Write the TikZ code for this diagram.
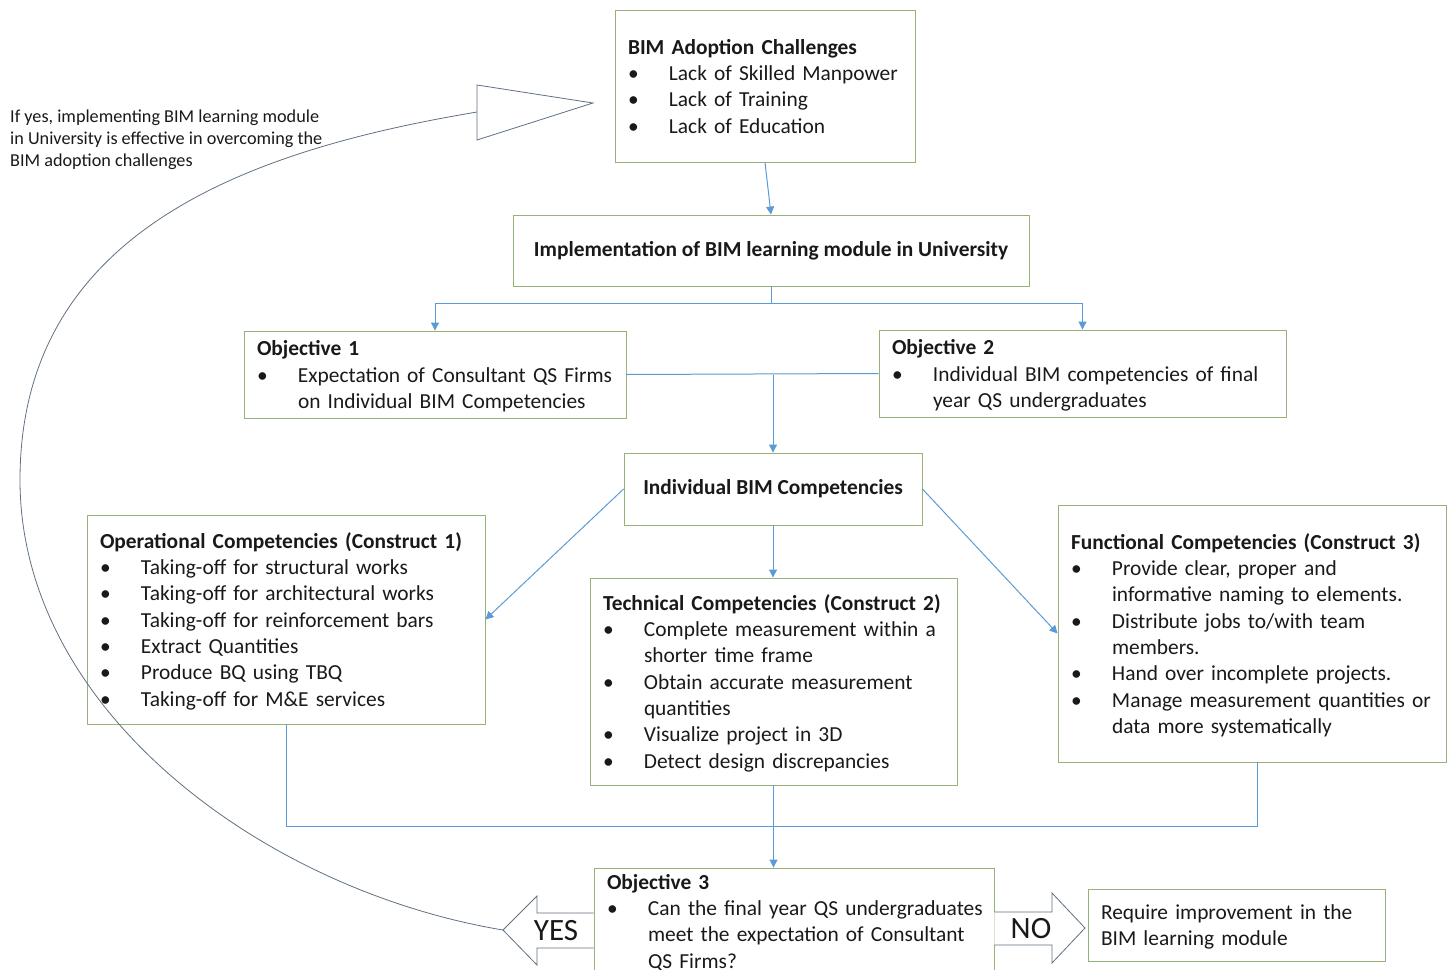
\documentclass[tikz,border=0pt]{standalone}
\usepackage{fontspec}
\setmainfont{Carlito}
\usetikzlibrary{arrows.meta}

\definecolor{boxgreen}{RGB}{150,178,118}
\definecolor{linkblue}{RGB}{91,155,213}
\definecolor{loopgray}{RGB}{95,112,130}
\definecolor{txtgray}{RGB}{25,25,25}

% bullet with hanging indent, lines kept unbroken
\newcommand{\bul}{\makebox[41pt][l]{\textbullet}}
\newcommand{\ind}{\hspace*{41pt}}
\newcommand{\boxlines}[1]{\raisebox{-2.5pt}[\height][\depth]{\begin{tabular}{@{}l@{}}#1\end{tabular}}}

\begin{document}
\begin{tikzpicture}[x=1pt,y=-1pt,
    box/.style={draw=boxgreen,line width=0.9pt,align=left,inner xsep=13pt,inner ysep=0pt,
                text=txtgray,font=\fontsize{21.4}{26.3}\selectfont},
    link/.style={linkblue,line width=1pt,-{Triangle[length=8pt,width=8pt]}},
    plain/.style={linkblue,line width=1pt},
    bigarrow/.style={draw=loopgray,line width=0.8pt,fill=white}]
    \useasboundingbox (0,0) rectangle (1447,969);
    \clip (0,0) rectangle (1447,969);

    % boxes
    \node[box,minimum width=300pt,text width=274pt,minimum height=152pt] (chall) at (765,86)
        {\boxlines{\textbf{BIM Adoption Challenges}\\
         \bul Lack of Skilled Manpower\\
         \bul Lack of Training\\
         \bul Lack of Education}};
    \node[box,align=center,minimum width=516pt,minimum height=71pt] (impl) at (771,250.5)
        {\textbf{Implementation of BIM learning module in University}};
    \node[box,minimum width=382pt,text width=356pt,minimum height=87pt] (obj1) at (435,374.5)
        {\boxlines{\textbf{Objective 1}\\
         \bul Expectation of Consultant QS Firms\\
         \ind on Individual BIM Competencies}};
    \node[box,minimum width=407pt,text width=381pt,minimum height=87pt] (obj2) at (1082.5,373.5)
        {\boxlines{\textbf{Objective 2}\\
         \bul Individual BIM competencies of final\\
         \ind year QS undergraduates}};
    \node[box,align=center,minimum width=298pt,minimum height=72pt] (indiv) at (773,489)
        {\textbf{Individual BIM Competencies}};
    \node[box,minimum width=398pt,text width=372pt,minimum height=209pt] (oper) at (286,619.5)
        {\boxlines{\textbf{Operational Competencies (Construct 1)}\\
         \bul Taking-off for structural works\\
         \bul Taking-off for architectural works\\
         \bul Taking-off for reinforcement bars\\
         \bul Extract Quantities\\
         \bul Produce BQ using TBQ\\
         \bul Taking-off for M\&E services}};
    \node[box,minimum width=367pt,text width=341pt,minimum height=207pt] (tech) at (773.5,681.5)
        {\boxlines{\textbf{Technical Competencies (Construct 2)}\\
         \bul Complete measurement within a\\
         \ind shorter time frame\\
         \bul Obtain accurate measurement\\
         \ind quantities\\
         \bul Visualize project in 3D\\
         \bul Detect design discrepancies}};
    \node[box,minimum width=388pt,text width=362pt,minimum height=257pt] (func) at (1252,633.5)
        {\boxlines{\textbf{Functional Competencies (Construct 3)}\\
         \bul Provide clear, proper and\\
         \ind informative naming to elements.\\
         \bul Distribute jobs to/with team\\
         \ind members.\\
         \bul Hand over incomplete projects.\\
         \bul Manage measurement quantities or\\
         \ind data more systematically}};
    \node[box,minimum width=400pt,text width=374pt,minimum height=106pt] (obj3) at (794,921)
        {\boxlines{\textbf{Objective 3}\\
         \bul Can the final year QS undergraduates\\
         \ind meet the expectation of Consultant\\
         \ind QS Firms?}};
    \node[box,minimum width=297pt,text width=271pt,minimum height=72pt] (req) at (1236.5,925)
        {\boxlines{Require improvement in the\\
         BIM learning module}};

    % note on the left
    \node[anchor=west,align=left,inner sep=0pt,text=txtgray,font=\fontsize{18.2}{22}\selectfont] (note) at (10,140)
        {If yes, implementing BIM learning module\\
         in University is effective in overcoming the\\
         BIM adoption challenges};

    % connectors
    \draw[link] (chall.south) -- (impl.north);
    \coordinate (split) at (771,303);
    \draw[plain] (impl.south) -- (split);
    \draw[link] (split) -| (obj1.north);
    \draw[link] (split) -| (obj2.north);
    \draw[plain] (obj1.east) -- (obj2.west);
    \draw[link] (indiv.north |- obj1.east) -- (indiv.north);
    \draw[link] (indiv.south) -- (indiv.south |- tech.north);
    \draw[link] (indiv.west) -- (oper.east);
    \draw[link] (indiv.east) -- (func.west);
    \draw[plain] (oper.south) -- ++(0,102) -| ([xshift=5pt]func.south);
    \draw[link] (tech.south) -- (tech.south |- obj3.north);

    % YES / NO block arrows
    \draw[bigarrow] (obj3.west |- 0,913) -- (537,913) -- (537,896) -- (503,930)
        coordinate (yestip) -- (537,965) -- (537,948) -- (obj3.west |- 0,948);
    \node[inner sep=0pt,text=txtgray,font=\fontsize{31}{31}\selectfont] (yes) at (556,931) {YES};
    \draw[bigarrow] (obj3.east |- 0,912) -- (1052,912) -- (1052,893) -- (1085,928)
        -- (1052,963) -- (1052,945) -- (obj3.east |- 0,945);
    \node[inner sep=0pt,text=txtgray,font=\fontsize{31}{31}\selectfont] (no) at (1031,929) {NO};

    % loop back to the challenges
    \coordinate (loopend) at (477,112);
    \draw[loopgray,line width=0.8pt] (yestip) .. controls (263,890) and (20,710) .. (20,480)
        .. controls (20,230) and (250,150) .. (loopend);
    \draw[bigarrow] (477,85) -- (593,103) -- (477,140) -- cycle;
\end{tikzpicture}
\end{document}
